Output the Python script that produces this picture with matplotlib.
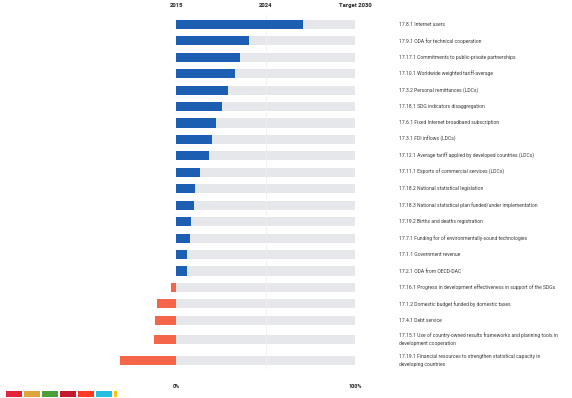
import matplotlib.pyplot as plt

labels = [
    "17.8.1 Internet users",
    "17.9.1 ODA for technical cooperation",
    "17.17.1 Commitments to public-private partnerships",
    "17.10.1 Worldwide weighted tariff-average",
    "17.3.2 Personal remittances (LDCs)",
    "17.18.1 SDG indicators disaggregation",
    "17.6.1 Fixed Internet broadband subscription",
    "17.3.1 FDI inflows (LDCs)",
    "17.12.1 Average tariff applied by developed countries (LDCs)",
    "17.11.1 Exports of commercial services (LDCs)",
    "17.18.2 National statistical legislation",
    "17.18.3 National statistical plan funded/under implementation",
    "17.19.2 Births and deaths registration",
    "17.7.1 Funding for of environmentally-sound technologies",
    "17.1.1 Government revenue",
    "17.2.1 ODA from OECD-DAC",
    "17.16.1 Progress in development effectiveness in support of the SDGs",
    "17.1.2 Domestic budget funded by domestic taxes",
    "17.4.1 Debt service",
    "17.15.1 Use of country-owned results frameworks and planning tools in\ndevelopment cooperation",
    "17.19.1 Financial resources to strengthen statistical capacity in\ndeveloping countries",
]
progress = [0.71, 0.406, 0.358, 0.328, 0.29, 0.257, 0.223, 0.20, 0.184, 0.13,
            0.106, 0.097, 0.08, 0.078, 0.06, 0.058, -0.03, -0.108, -0.119,
            -0.125, -0.314]
year_labels = ["2015", "2024", "Target 2030"]
year_pos = [0.0, 0.5, 1.0]
scale_labels = ["0%", "100%"]
scale_pos = [0.0, 1.0]
sdg_colors = ["#e5243b", "#dda63a", "#4c9f38", "#c5192d", "#ff3a21",
              "#26bde2", "#fcc30b"]

BLUE = "#1c5fb2"
ORANGE = "#f5654a"
TRACK = "#e6e7ea"
FONT = "Roboto"

fig = plt.figure(figsize=(5.72, 3.98), dpi=100)
ax = fig.add_axes([0, 0, 1, 1])
ax.set_xlim(-0.985, 2.211)
ax.set_ylim(22.72, -1.477)
ax.axis("off")

# row positions, a bit more room for two-line labels
extra = [l.count("\n") for l in labels]
pos = [0.0]
for i in range(1, len(labels)):
    pos.append(pos[-1] + 1 + 0.15 * (extra[i - 1] + extra[i]))

ax.barh(pos, [1.0] * len(pos), height=0.55, color=TRACK, zorder=1)
ax.vlines(0.5, -0.6, pos[-1] + 0.5, color="#f0f0f0", lw=0.6, zorder=1.5)
colors = [BLUE if v >= 0 else ORANGE for v in progress]
ax.barh(pos, progress, height=0.55, color=colors, zorder=2)

for p, lab in zip(pos, labels):
    ax.text(1.244, p, lab, ha="left", va="center", fontsize=3.6,
            family=FONT, color="#3a3a3a", linespacing=1.7)

for x, t in zip(year_pos, year_labels):
    ax.text(x, -1.17, t, ha="center", va="center", fontsize=4.2,
            family=FONT, fontweight="bold", color="#222222")

for x, t in zip(scale_pos, scale_labels):
    ax.text(x, 22.05, t, ha="center", va="center", fontsize=4.0,
            family=FONT, fontweight="bold", color="#222222")

# SDG colour strip in the bottom-left corner
strip = fig.add_axes([6 / 572, 1.3 / 398, 111 / 572, 5.7 / 398])
strip.bar(range(len(sdg_colors)), [1] * len(sdg_colors), width=0.906,
          color=sdg_colors)
strip.set_xlim(-0.453, -0.453 + 111 / 18)
strip.set_ylim(0, 1)
strip.axis("off")

fig.savefig("out.png", dpi=100)
